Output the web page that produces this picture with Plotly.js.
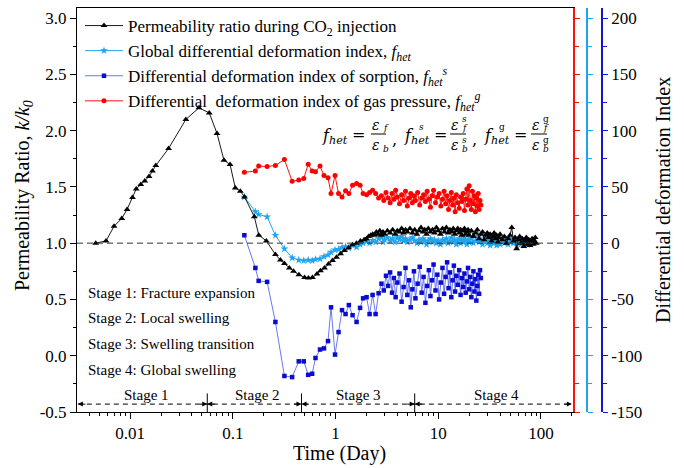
<!DOCTYPE html>
<html><head><meta charset="utf-8">
<script src="https://cdn.plot.ly/plotly-3.0.1.min.js"></script>
<style>html,body{margin:0;padding:0;background:#fff}#chart{width:684px;height:468px}</style>
</head><body><div id="chart"></div>
<script>
// ---------- data ----------
// Permeability ratio k/k0 during CO2 injection (left axis)
const tPerm = [
0.00463, 0.00583, 0.00698, 0.0083, 0.00935, 0.01055, 0.01147, 0.0127, 0.0139, 0.0153,
0.0165, 0.0178, 0.0237, 0.0349, 0.0468, 0.059, 0.0702, 0.082, 0.094, 0.1057,
0.1183, 0.130, 0.162, 0.179, 0.212, 0.2598, 0.2906, 0.318, 0.355, 0.39,
0.44, 0.50, 0.545, 0.596, 0.66, 0.714, 0.781, 0.855, 0.935, 1.023,
1.12, 1.22, 1.34, 1.465, 1.60, 1.75, 1.9, 2.0, 2.1, 2.2,
2.3, 2.4, 2.5, 2.6, 2.7, 2.8, 2.9, 3.0, 3.2, 3.4,
3.6, 3.8, 4.0, 4.2, 4.4, 4.6, 4.8, 5.0, 5.3, 5.6,
5.9, 6.2, 6.5, 6.8, 7.1, 7.4, 7.7, 8.0, 8.4, 8.8,
9.2, 9.6, 10, 10.5, 11, 11.5, 12, 12.5, 13, 13.5,
14, 14.5, 15, 15.5, 16, 16.5, 17, 17.5, 18, 18.5,
19, 19.5, 20, 21, 22, 23, 24, 25, 26, 27,
28, 29, 30, 31, 32, 33, 34, 35, 36, 37,
38, 39, 40, 42, 44, 46, 48, 50, 52, 54,
56, 58, 60, 62, 64, 66, 68, 70, 72, 74,
76, 78, 80, 82, 84, 86, 88, 90];
const kPerm = [
1.00, 1.02, 1.15, 1.22, 1.30, 1.406, 1.482, 1.521, 1.553, 1.592,
1.64, 1.69, 1.841, 2.099, 2.202, 2.157, 1.974, 1.737, 1.699, 1.491,
1.462, 1.411, 1.234, 1.071, 1.02, 0.90, 0.85, 0.82, 0.78, 0.75,
0.72, 0.695, 0.69, 0.695, 0.725, 0.755, 0.78, 0.815, 0.845, 0.875,
0.905, 0.935, 0.96, 0.985, 1.00, 1.02, 1.03, 1.04, 1.06, 1.07,
1.08, 1.07, 1.10, 1.08, 1.11, 1.07, 1.10, 1.08, 1.11, 1.09,
1.12, 1.08, 1.11, 1.10, 1.13, 1.09, 1.12, 1.10, 1.13, 1.09,
1.12, 1.08, 1.11, 1.14, 1.10, 1.12, 1.08, 1.13, 1.10, 1.12,
1.09, 1.14, 1.11, 1.08, 1.13, 1.10, 1.14, 1.09, 1.12, 1.10,
1.13, 1.08, 1.11, 1.13, 1.09, 1.12, 1.07, 1.11, 1.13, 1.08,
1.10, 1.12, 1.07, 1.11, 1.06, 1.09, 1.12, 1.04, 1.08, 1.10,
1.03, 1.07, 1.09, 1.05, 1.08, 1.02, 1.06, 1.09, 1.04, 1.07,
1.01, 1.05, 1.08, 1.03, 1.06, 1.00, 1.04, 1.07, 1.14, 1.02,
1.05, 0.95, 1.03, 1.06, 1.00, 1.04, 0.97, 1.02, 1.05, 0.99,
1.03, 0.98, 1.02, 1.04, 0.99, 1.02, 1.05, 1.00];

// Global differential deformation index f_het (right axes)
const tGlobal = [
0.1295, 0.1658, 0.1785, 0.2157, 0.2598, 0.3179, 0.378, 0.4385, 0.4907, 0.5417,
0.5925, 0.6381, 0.706, 0.7723, 0.845, 0.904, 0.989, 1.070, 1.157, 1.252,
1.348, 1.465, 1.603, 1.734, 1.855, 2.006, 2.146, 2.296, 2.456, 2.627,
2.8, 2.9, 3.0, 3.2, 3.4, 3.6, 3.8, 4.0, 4.2, 4.4,
4.6, 4.8, 5.0, 5.3, 5.6, 5.9, 6.2, 6.5, 6.8, 7.1,
7.4, 7.7, 8.0, 8.4, 8.8, 9.2, 9.6, 10, 10.5, 11,
11.5, 12, 12.5, 13, 13.5, 14, 14.5, 15, 15.5, 16,
16.5, 17, 17.5, 18, 18.5, 19, 19.5, 20, 21, 22,
23, 24, 25, 26, 27, 28, 29, 30, 31, 32,
33, 34, 35, 36, 37, 38, 39, 40, 42, 44,
46, 48, 50, 52, 54, 56, 58, 60, 62, 64,
66, 68, 70, 72, 74, 76, 78, 80];
const fGlobal = [
41, 28, 25.5, 23.4, 7, -5, -13, -15, -15.5, -15,
-15.5, -14.5, -14, -12, -10.5, -8, -6, -5.5, -4, -3,
-4.5, -2, -3.5, -1, 0, 1.5, 0, 2.5, 1, 4,
5, 1, 3, 5, 2, 4, 1, 5, 3, 6,
2, 4, 1, 3, 5, 2, 0, 3, 1, 4,
2, -1, 2, 4, 1, 3, 0, 2, -1, 3,
1, 4, 0, 2, 5, 1, 3, -1, 2, 4,
0, 3, 1, 5, 2, -1, 3, 1, 4, 0,
2, 6, 1, 3, -1, 2, 4, 0, 3, -2,
1, 4, 0, 2, -2, 1, 3, -1, 2, 0,
3, -1, 1, 4, 0, 2, -2, 1, 3, -1,
1, -2, 2, 0, -1, 2, 0, -1];

// Sorption / gas-pressure indices share the same sampling times
const tIndex = [
0.1295, 0.1658, 0.1785, 0.2157, 0.2598, 0.3179, 0.378, 0.4385, 0.4907, 0.5417,
0.5925, 0.6381, 0.706, 0.7723, 0.845, 0.904, 0.989, 1.070, 1.157, 1.252,
1.348, 1.465, 1.603, 1.734, 1.855, 2.006, 2.146, 2.296, 2.456, 2.627,
2.8, 2.95, 3.1, 3.25, 3.4, 3.55, 3.7, 3.85, 4.0, 4.2,
4.4, 4.6, 4.8, 5.0, 5.2, 5.4, 5.6, 5.8, 6.0, 6.3,
6.6, 6.9, 7.2, 7.5, 7.8, 8.1, 8.4, 8.7, 9.0, 9.4,
9.8, 10.2, 10.6, 11.0, 11.4, 11.8, 12.2, 12.6, 13.0, 13.4,
13.8, 14.2, 14.6, 15.0, 15.5, 16.0, 16.5, 17.0, 17.5, 18.0,
18.5, 19.0, 19.5, 20.0, 20.5, 21.0, 21.5, 22.0, 22.5, 23.0,
23.5, 24.0, 24.5, 25.0, 25.5, 26.0];
const fSorption = [
7, -22, -33.5, -34.4, -70, -118, -119, -105, -105, -117,
-116, -102, -94.5, -93.5, -87, -57, -99, -79, -59.5, -63,
-55, -64, -70, -57.5, -49, -48, -63, -46, -63, -44.5,
-36, -42, -29, -38, -26, -44, -31, -48, -35, -27,
-52, -39, -22, -46, -33, -57, -41, -25, -49, -36,
-21, -44, -30, -53, -38, -24, -47, -33, -19, -42,
-28, -50, -35, -22, -45, -30, -17, -40, -26, -48,
-33, -20, -43, -29, -37, -24, -46, -31, -39, -27,
-44, -34, -22, -41, -30, -48, -36, -25, -43, -32,
-51, -38, -28, -45, -24, -31];
const fGas = [
63, 64, 68.5, 68, 69, 74.3, 55, 56, 57.5, 70,
64, 63.5, 68.5, 60, 58, 44, 60, 44, 41, 46.5,
44, 51.5, 53, 51.5, 44, 43, 45, 47, 44, 40,
42, 38, 45, 40, 36, 44, 39, 47, 41, 35,
43, 38, 46, 33, 40, 44, 36, 42, 38, 45,
34, 40, 43, 37, 46, 39, 32, 42, 47, 36,
41, 44, 33, 39, 46, 35, 42, 30, 38, 45,
34, 40, 28, 43, 36, 31, 41, 37, 44, 29,
39, 48, 34, 51, 38, 30, 46, 35, 42, 28,
40, 33, 44, 30, 38, 34];

// Stages
const stageBounds = [0.0031, 0.0564, 0.466, 5.9, 200];
const stageNames = ['Stage 1', 'Stage 2', 'Stage 3', 'Stage 4'];
const stageLabelT = [0.0146, 0.172, 1.69, 37];
const stageNotes = ['Stage 1: Fracture expansion', 'Stage 2: Local swelling',
                    'Stage 3: Swelling transition', 'Stage 4: Global swelling'];

// Axis ticks
const kTickVals = [-0.5, 0, 0.5, 1, 1.5, 2, 2.5, 3];
const kTickText = ['-0.5', '0.0', '0.5', '1.0', '1.5', '2.0', '2.5', '3.0'];
const idxTickVals = [-150, -100, -50, 0, 50, 100, 150, 200];
const idxTickText = ['-150', '-100', '-50', '0', '50', '100', '150', '200'];
const timeTickVals = [0.01, 0.1, 1, 10, 100];
const timeTickText = ['0.01', '0.1', '1', '10', '100'];

// ---------- layout geometry ----------
const W = 684, H = 468, ML = 77, MR = 20, MT = 8, MB = 56;
const PW = W - ML - MR, PH = H - MT - MB;
const px = x => (x - ML) / PW;
const py = y => (H - MB - y) / PH;
const FONT = '"Liberation Serif", "Times New Roman", Times, serif';
const kRange = [-0.5, 3.089];
const idxRange = [(kRange[0] - 1) * 100, (kRange[1] - 1) * 100];

const RED = '#ff1010', LBLUE = '#1ea5f0', DBLUE = '#1515cc';

const traces = [
  {name: 'Permeability ratio during CO<sub>2</sub> injection', x: tPerm, y: kPerm,
   xaxis: 'x', yaxis: 'y5', mode: 'lines+markers',
   line: {color: '#000', width: 0.9}, marker: {symbol: 'triangle-up', size: 6, color: '#000'}},
  {name: 'Global differential deformation index, <i>f<sub>het</sub></i>', x: tGlobal, y: fGlobal,
   xaxis: 'x', yaxis: 'y3', mode: 'lines+markers',
   line: {color: LBLUE, width: 1}, marker: {symbol: 'star', size: 6, color: LBLUE}},
  {name: 'Differential deformation index of sorption, <i>f<sub>het</sub><sup>s</sup></i>', x: tIndex, y: fSorption,
   xaxis: 'x', yaxis: 'y4', mode: 'lines+markers',
   line: {color: '#4455ee', width: 0.8}, marker: {symbol: 'square', size: 4.5, color: '#0a0ad0'}},
  {name: 'Differential\u00a0 deformation index of gas pressure, <i>f<sub>het</sub><sup>g</sup></i>', x: tIndex, y: fGas,
   xaxis: 'x', yaxis: 'y2', mode: 'lines+markers',
   line: {color: RED, width: 1}, marker: {symbol: 'circle', size: 5, color: '#ff0000'}}
];

// stage arrows (dashed line + boundary ticks)
const arrowY = -0.43, boundTop = -0.335;
traces.push({x: [stageBounds[0], stageBounds[stageBounds.length - 1]], y: [arrowY, arrowY],
  xaxis: 'x', yaxis: 'y', mode: 'lines', line: {color: '#000', width: 1, dash: '5px,4px'},
  showlegend: false, hoverinfo: 'skip'});
const bx = [], by = [];
stageBounds.slice(1, -1).forEach(b => { bx.push(b, b, null); by.push(kRange[0], boundTop, null); });
traces.push({x: bx, y: by, xaxis: 'x', yaxis: 'y', mode: 'lines', line: {color: '#000', width: 1},
  showlegend: false, hoverinfo: 'skip'});

const annotations = [];
for (let i = 0; i < stageNames.length; i++) {
  annotations.push({x: Math.log10(stageBounds[i]), y: arrowY, xref: 'x', yref: 'y', text: '',
    showarrow: true, ax: 9, ay: 0, arrowhead: 2, arrowsize: 1, arrowwidth: 1, arrowcolor: '#000'});
  annotations.push({x: Math.log10(stageBounds[i + 1]), y: arrowY, xref: 'x', yref: 'y', text: '',
    showarrow: true, ax: -9, ay: 0, arrowhead: 2, arrowsize: 1, arrowwidth: 1, arrowcolor: '#000'});
  annotations.push({x: Math.log10(stageLabelT[i]), y: -0.35, xref: 'x', yref: 'y', text: stageNames[i],
    showarrow: false, xanchor: 'center', yanchor: 'middle', font: {family: FONT, size: 15, color: '#000'}});
}
const noteY = [293, 318, 344, 370];
stageNotes.forEach((s, i) => annotations.push({x: px(86), y: py(noteY[i]), xref: 'paper', yref: 'paper',
  text: s, showarrow: false, xanchor: 'left', yanchor: 'middle', font: {family: FONT, size: 15, color: '#000'}}));

// axis titles
annotations.push({x: px(23), y: py(196), xref: 'paper', yref: 'paper', textangle: -90, showarrow: false,
  xanchor: 'center', yanchor: 'middle',
  text: 'Permeability Ratio, <i>k/k<sub>0</sub></i>', font: {family: FONT, size: 20, color: '#000'}});
annotations.push({x: px(663), y: py(200), xref: 'paper', yref: 'paper', textangle: -90, showarrow: false,
  xanchor: 'center', yanchor: 'middle',
  text: 'Differential deformation Index', font: {family: FONT, size: 20, color: '#000'}});
annotations.push({x: px(339), y: py(453), xref: 'paper', yref: 'paper', showarrow: false,
  xanchor: 'center', yanchor: 'middle',
  text: 'Time (Day)', font: {family: FONT, size: 20, color: '#000'}});

// formula  f_het = εf/εb ,  f_het^s = εf^s/εb^s ,  f_het^g = εf^g/εb^g
const MF = '"DejaVu Serif", serif';
const FF = {family: MF, size: 16, color: '#000'};
const FE = {family: MF, size: 14, color: '#000'};
const FS = {family: MF, size: 9, color: '#000'};
const addT = (x, y, text, anchor, f) => annotations.push({x: px(x), y: py(y), xref: 'paper', yref: 'paper',
  text, showarrow: false, xanchor: anchor, yanchor: 'middle', font: f || FF});
// left-hand sides
[[320, ''], [402, '<i>s</i>'], [482, 'g']].forEach(([x, sup]) => {
  addT(x, 137, '<i>f</i><sub><i>het</i></sub>', 'left');
  if (sup) addT(x + 15, 127, sup, 'left', FS);
  addT(x + 38, 135, '=', 'center');
});
addT(394, 140, ',', 'center');
addT(474, 140, ',', 'center');
// fractions
[[378, ''], [458, '<i>s</i>'], [539, 'g']].forEach(([c, sup]) => {
  const ex = sup ? -3 : -2;
  addT(c + ex, 125, '<i>ε</i>', 'center', FE);
  addT(c + ex + 5, 128, '<i>f</i>', 'left', FS);
  addT(c + ex, 145, '<i>ε</i>', 'center', FE);
  addT(c + ex + 5, 149, '<i>b</i>', 'left', FS);
  if (sup) { addT(c + ex + 5, 118.5, sup, 'left', FS); addT(c + ex + 5, 140.5, sup, 'left', FS); }
});
const bars = [[371, 386], [450, 466], [531, 547]];
const shapes = bars.map(b => ({type: 'line', xref: 'paper', yref: 'paper', x0: px(b[0]), x1: px(b[1]),
  y0: py(134), y1: py(134), line: {color: '#000', width: 1}}));
// reference line k/k0 = 1
shapes.push({type: 'line', xref: 'x domain', yref: 'y', x0: 0, x1: 1, y0: 1, y1: 1,
  line: {color: '#333', width: 1, dash: '6px,4px'}});

const rightAxis = (color, pos, labels) => ({
  overlaying: 'y', side: 'right', anchor: pos === null ? 'x' : 'free', position: pos === null ? undefined : pos,
  range: idxRange, showline: true, linecolor: color, linewidth: 1.5, ticks: 'outside', ticklen: 5, tickwidth: 1.2,
  tickcolor: color, tickvals: idxTickVals, ticktext: idxTickText, showticklabels: labels,
  tickfont: {family: FONT, size: 17, color: '#000'}, showgrid: false, zeroline: false,
  minor: {dtick: 25, tick0: 0, ticks: 'outside', ticklen: 4, tickcolor: color, showgrid: false}
});

const layout = {
  width: W, height: H, margin: {l: ML, r: MR, t: MT, b: MB},
  paper_bgcolor: '#fff', plot_bgcolor: '#fff', font: {family: FONT, size: 17, color: '#000'},
  showlegend: true,
  legend: {x: px(80), y: 1, xanchor: 'left', yanchor: 'top', bgcolor: 'rgba(0,0,0,0)',
           font: {family: FONT, size: 17, color: '#000'}, itemwidth: 38, tracegroupgap: 0},
  xaxis: {type: 'log', range: [-2.517, 2.312], domain: [0, 496 / PW], showline: true, linecolor: '#000',
          linewidth: 1, mirror: true, ticks: 'outside', ticklen: 6, tickcolor: '#000',
          tickvals: timeTickVals, ticktext: timeTickText,
          tickfont: {family: FONT, size: 17}, showgrid: false, zeroline: false,
          minor: {dtick: 'D1', ticks: 'outside', ticklen: 3, tickcolor: '#000', showgrid: false}},
  yaxis: {range: kRange, showline: true, linecolor: '#000', linewidth: 1, ticks: 'outside', ticklen: 6,
          tickcolor: '#000', tickvals: kTickVals, ticktext: kTickText, tickfont: {family: FONT, size: 17},
          showgrid: false, zeroline: false,
          minor: {dtick: 0.25, tick0: 0, ticks: 'outside', ticklen: 3, tickcolor: '#000', showgrid: false}},
  yaxis2: rightAxis(RED, null, false),
  yaxis3: rightAxis(LBLUE, (587 - ML) / PW, false),
  yaxis4: rightAxis(DBLUE, (602 - ML) / PW, true),
  yaxis5: {overlaying: 'y', range: kRange, visible: false, showgrid: false, zeroline: false},
  annotations, shapes
};

Plotly.newPlot('chart', traces, layout, {displayModeBar: false, responsive: false});
</script>
</body></html>
